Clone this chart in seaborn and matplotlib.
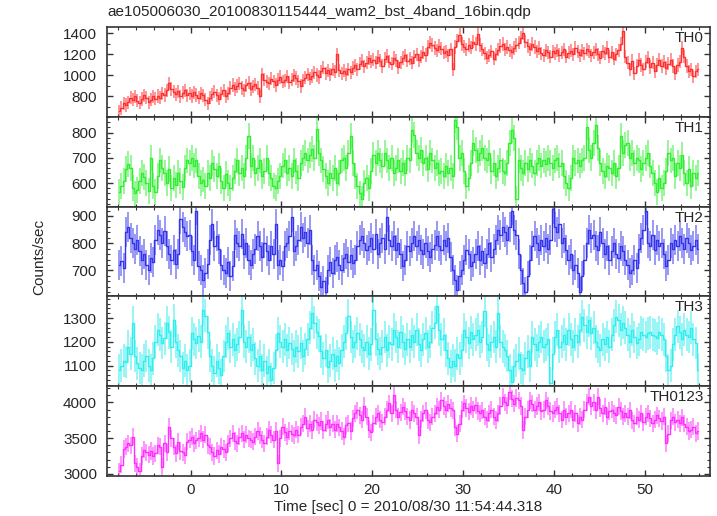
import numpy as np
import pandas as pd
import matplotlib
matplotlib.use("Agg")
import matplotlib.pyplot as plt
from matplotlib.ticker import MultipleLocator
import seaborn as sns

TITLE = "ae105006030_20100830115444_wam2_bst_4band_16bin.qdp"
XLABEL = "Time [sec] 0 = 2010/08/30 11:54:44.318"
YLABEL = "Counts/sec"

# light curve bins: first bin centre and bin width (sec)
T_FIRST = -7.875
BIN = 0.25

BANDS = ["TH0", "TH1", "TH2", "TH3", "TH0123"]
COLORS = ["#ff3030", "#30ee30", "#3434ee", "#30eeee", "#ff30ff"]
ERRORS = [63, 51, 55, 69, 120]   # typical 1-sigma half length per band

# count rates, 16 bins (4 s) per row
TH0 = [
    660, 690, 735, 720, 745, 790, 770, 800, 760, 740, 775, 810, 790, 745, 770, 800,
    780, 805, 790, 830, 815, 860, 925, 870, 845, 820, 850, 800, 835, 860, 810, 830,
    805, 840, 815, 790, 830, 810, 770, 735, 790, 820, 845, 810, 780, 825, 860, 800,
    830, 880, 910, 870, 900, 925, 880, 860, 905, 930, 870, 895, 915, 880, 800, 1010,
    960, 940, 925, 970, 945, 910, 960, 985, 940, 955, 990, 935, 960, 1000, 975, 945,
    900, 955, 980, 1010, 970, 995, 1030, 1005, 985, 1040, 1075, 1020, 1050, 1010, 1060, 1035,
    1200, 1050, 1020, 1045, 1010, 1060, 1030, 1070, 1095, 1060, 1110, 1140, 1085, 1120, 1165, 1130,
    1150, 1120, 1175, 1140, 1090, 1160, 1185, 1130, 1110, 1170, 1145, 1080, 1125, 1165, 1190, 1140,
    1160, 1120, 1175, 1200, 1145, 1180, 1220, 1195, 1270, 1310, 1290, 1260, 1240, 1280, 1255, 1215,
    1230, 1190, 1250, 1060, 1270, 1330, 1385, 1300, 1275, 1250, 1290, 1265, 1320, 1300, 1395, 1290,
    1250, 1210, 1170, 1190, 1230, 1160, 1200, 1245, 1280, 1300, 1250, 1270, 1240, 1220, 1260, 1290,
    1310, 1360, 1400, 1320, 1280, 1250, 1300, 1270, 1230, 1260, 1210, 1190, 1240, 1220, 1180, 1230,
    1210, 1240, 1195, 1220, 1250, 1180, 1215, 1235, 1200, 1260, 1225, 1190, 1240, 1210, 1250, 1230,
    1190, 1220, 1250, 1200, 1170, 1230, 1210, 1260, 1180, 1220, 1160, 1200, 1240, 1300, 1420, 1180,
    1120, 1060, 1140, 1020, 1090, 1150, 1100, 1060, 1130, 1170, 1080, 1120, 1040, 1100, 1150, 1090,
    1130, 1070, 1110, 1150, 1090, 1020, 1100, 1130, 1260, 1180, 1090, 1040, 1060, 990, 1040, 1060,
]
TH1 = [
    565, 590, 610, 655, 675, 660, 580, 560, 575, 610, 640, 625, 600, 570, 700, 590,
    565, 630, 690, 660, 640, 600, 655, 580, 620, 595, 640, 610, 585, 660, 690, 680,
    700, 670, 690, 630, 600, 615, 590, 640, 620, 680, 655, 630, 670, 610, 580, 635,
    600, 580, 620, 650, 690, 640, 660, 630, 700, 785, 670, 700, 640, 660, 690, 630,
    650, 700, 640, 620, 590, 580, 610, 630, 670, 690, 640, 660, 630, 690, 650, 620,
    680, 700, 720, 690, 710, 735, 700, 815, 720, 690, 655, 630, 600, 640, 620, 660,
    600, 640, 690, 700, 660, 720, 785, 680, 630, 590, 560, 540, 600, 620, 580, 650,
    710, 680, 720, 690, 670, 720, 690, 660, 700, 640, 660, 690, 650, 680, 640, 700,
    690, 810, 790, 720, 700, 730, 680, 700, 655, 720, 690, 660, 680, 640, 650, 630,
    670, 640, 660, 630, 850, 820, 700, 720, 650, 590, 620, 680, 760, 730, 690, 720,
    740, 700, 690, 720, 650, 680, 630, 660, 690, 650, 640, 680, 760, 810, 780, 540,
    690, 660, 640, 680, 655, 690, 670, 640, 680, 700, 670, 690, 675, 700, 680, 660,
    690, 700, 670, 680, 630, 600, 580, 620, 700, 680, 690, 670, 690, 700, 820, 730,
    700, 760, 830, 740, 680, 650, 630, 670, 660, 640, 680, 630, 660, 785, 720, 750,
    760, 700, 720, 680, 700, 690, 655, 680, 700, 720, 670, 640, 600, 565, 620, 580,
    600, 650, 720, 690, 700, 630, 680, 660, 710, 640, 600, 655, 590, 640, 620, 640,
]
TH2 = [
    720, 735, 710, 840, 860, 820, 800, 780, 810, 770, 740, 760, 720, 700, 745, 730,
    810, 850, 830, 800, 845, 790, 760, 740, 775, 725, 760, 890, 860, 840, 825, 830,
    770, 740, 920, 715, 700, 665, 690, 725, 810, 870, 790, 825, 780, 720, 700, 690,
    730, 680, 715, 830, 800, 790, 835, 760, 800, 740, 720, 760, 780, 825, 790, 750,
    800, 770, 740, 790, 760, 870, 720, 740, 715, 790, 800, 825, 895, 770, 790, 810,
    860, 820, 840, 800, 850, 740, 700, 720, 680, 640, 660, 620, 700, 730, 690, 740,
    750, 720, 700, 745, 760, 730, 755, 727, 740, 790, 810, 825, 800, 775, 790, 820,
    780, 835, 760, 800, 820, 780, 895, 810, 790, 825, 775, 800, 760, 715, 740, 790,
    770, 800, 825, 790, 810, 775, 760, 800, 770, 750, 780, 795, 825, 790, 775, 810,
    790, 820, 750, 700, 665, 630, 680, 700, 740, 775, 760, 715, 730, 760, 790, 740,
    770, 727, 760, 800, 750, 780, 810, 850, 830, 860, 840, 810, 860, 920, 850, 830,
    760, 700, 655, 620, 680, 740, 790, 825, 800, 775, 810, 790, 820, 780, 810, 925,
    860, 840, 870, 800, 820, 775, 740, 760, 700, 720, 690, 620, 680, 740, 800, 850,
    820, 830, 790, 775, 840, 800, 760, 790, 740, 770, 800, 760, 745, 790, 770, 740,
    720, 690, 700, 740, 710, 780, 820, 850, 920, 800, 790, 830, 775, 810, 790, 800,
    760, 715, 740, 800, 780, 810, 790, 825, 800, 780, 820, 800, 775, 790, 810, 780,
]
TH3 = [
    1080, 1100, 1120, 1115, 1180, 1150, 1280, 1140, 1110, 1090, 1080, 1120, 1140, 1100, 1080, 1130,
    1200, 1250, 1230, 1195, 1215, 1280, 1240, 1180, 1290, 1200, 1165, 1140, 1090, 1120, 1080, 1100,
    1235, 1210, 1195, 1225, 1200, 1335, 1310, 1240, 1140, 1100, 1070, 1120, 1090, 1060, 1140, 1200,
    1235, 1180, 1210, 1165, 1190, 1220, 1335, 1200, 1180, 1220, 1165, 1190, 1130, 1100, 1140, 1080,
    1120, 1070, 1100, 1040, 1090, 1165, 1235, 1200, 1180, 1210, 1165, 1195, 1170, 1140, 1180, 1160,
    1195, 1140, 1170, 1210, 1260, 1320, 1280, 1240, 1225, 1160, 1130, 1165, 1095, 1120, 1150, 1100,
    1140, 1110, 1165, 1200, 1235, 1310, 1220, 1180, 1200, 1235, 1210, 1180, 1165, 1200, 1150, 1190,
    1335, 1210, 1170, 1150, 1180, 1220, 1165, 1200, 1190, 1250, 1220, 1180, 1240, 1200, 1170, 1210,
    1180, 1230, 1200, 1250, 1190, 1165, 1210, 1235, 1180, 1200, 1260, 1280, 1350, 1250, 1210, 1230,
    1165, 1130, 1095, 1120, 1100, 1150, 1130, 1165, 1250, 1220, 1195, 1240, 1210, 1230, 1250, 1200,
    1220, 1330, 1190, 1165, 1200, 1220, 1180, 1320, 1200, 1180, 1165, 1140, 1080, 1030, 1100, 1120,
    1150, 1090, 1080, 1130, 1160, 1100, 1220, 1190, 1165, 1200, 1220, 1180, 1190, 1210, 1025, 1150,
    1220, 1250, 1180, 1200, 1230, 1190, 1250, 1210, 1180, 1230, 1200, 1250, 1305, 1270, 1240, 1290,
    1235, 1260, 1200, 1180, 1165, 1210, 1190, 1220, 1180, 1230, 1270, 1305, 1290, 1250, 1280, 1260,
    1230, 1200, 1250, 1220, 1195, 1210, 1240, 1230, 1220, 1235, 1240, 1230, 1225, 1215, 1240, 1230,
    1210, 1140, 1080, 1100, 1190, 1230, 1265, 1240, 1210, 1250, 1230, 1220, 1260, 1210, 1195, 1080,
]
TH0123 = [
    3040, 3130, 3350, 3380, 3430, 3400, 3520, 3150, 3100, 3040, 3250, 3340, 3300, 3270, 3320, 3250,
    3290, 3400, 3380, 3100, 3430, 3300, 3660, 3500, 3380, 3290, 3450, 3320, 3300, 3260, 3450, 3480,
    3520, 3430, 3470, 3500, 3570, 3480, 3550, 3400, 3380, 3300, 3250, 3330, 3280, 3380, 3350, 3300,
    3430, 3500, 3570, 3460, 3430, 3520, 3570, 3480, 3550, 3500, 3480, 3450, 3520, 3600, 3540, 3480,
    3430, 3520, 3615, 3550, 3480, 3600, 3150, 3500, 3660, 3580, 3520, 3600, 3560, 3540, 3620, 3550,
    3660, 3700, 3800, 3640, 3700, 3615, 3760, 3720, 3680, 3740, 3615, 3700, 3755, 3650, 3700, 3620,
    3700, 3650, 3600, 3520, 3680, 3710, 3600, 3780, 3850, 3890, 3820, 3760, 3950, 3800, 3620, 3580,
    3710, 3800, 3850, 3760, 3720, 3800, 3900, 3985, 3850, 4100, 3900, 3800, 3860, 3940, 3880, 3800,
    3755, 3900, 3850, 3800, 3545, 3760, 3850, 3890, 3750, 3720, 3800, 3850, 3940, 3900, 4030, 3950,
    3900, 3980, 3920, 3890, 3650, 3560, 3700, 3900, 3985, 3920, 3870, 3950, 3900, 3960, 3880, 3850,
    3890, 3800, 3760, 3850, 3900, 3800, 3755, 3850, 3950, 4080, 4000, 3960, 4150, 4050, 3980, 4060,
    4030, 3950, 3615, 3800, 3900, 4030, 3980, 3900, 3950, 4000, 3880, 3900, 4030, 3950, 3880, 3850,
    3900, 3940, 3850, 3760, 3900, 3800, 3850, 3900, 3760, 3850, 3710, 3800, 3760, 3900, 4000, 4080,
    3950, 4000, 3890, 4080, 3920, 3850, 3940, 3800, 3880, 3900, 3850, 3820, 3940, 3880, 3800, 3850,
    3800, 3890, 3750, 3710, 3800, 3760, 3850, 3720, 3800, 3850, 3780, 3710, 3760, 3820, 3780, 3740,
    3800, 3430, 3560, 3750, 3800, 3720, 3760, 3710, 3790, 3700, 3660, 3600, 3620, 3660, 3570, 3600,
]

# axis settings per panel
YLIMS = [(605, 1457), (508, 861), (605, 934), (1014, 1391), (2976, 4228)]
YMAJOR = [200, 100, 100, 100, 500]
YMINOR = [100, 20, 20, 20, 100]
XLIM = (-9.25, 57.2)

# long-form table for seaborn
frames = []
for band, rates in zip(BANDS, [TH0, TH1, TH2, TH3, TH0123]):
    t = T_FIRST + BIN * np.arange(len(rates))
    frames.append(pd.DataFrame({"Time": t, "Rate": rates, "Band": band}))
df = pd.concat(frames, ignore_index=True)

sns.set_style("ticks")
plt.rcParams["font.family"] = ["Liberation Sans", "DejaVu Sans"]
plt.rcParams["font.size"] = 11

fig, axes = plt.subplots(5, 1, sharex=True, figsize=(7.17, 5.16), dpi=100)
fig.subplots_adjust(left=0.1488, right=0.9902, top=0.947, bottom=0.0781, hspace=0)

for i, (ax, band) in enumerate(zip(axes, BANDS)):
    sub = df[df["Band"] == band]
    color = COLORS[i]
    # error bars first (lighter), then the step curve on top
    ax.vlines(sub["Time"], sub["Rate"] - ERRORS[i], sub["Rate"] + ERRORS[i],
              color=color, alpha=0.5, lw=1.4, zorder=2)
    sns.lineplot(data=sub, x="Time", y="Rate", color=color, estimator=None,
                 drawstyle="steps-mid", lw=1.0, ax=ax, zorder=3)

    ax.set_xlim(*XLIM)
    ax.set_ylim(*YLIMS[i])
    ax.set_xlabel("")
    ax.set_ylabel("")
    ax.yaxis.set_major_locator(MultipleLocator(YMAJOR[i]))
    ax.yaxis.set_minor_locator(MultipleLocator(YMINOR[i]))
    ax.xaxis.set_major_locator(MultipleLocator(10))
    ax.xaxis.set_minor_locator(MultipleLocator(2))
    ax.tick_params(which="both", direction="in", top=True, right=True,
                   color="#333333", labelsize=11)
    ax.tick_params(which="major", length=4.5, width=1.0)
    ax.tick_params(which="minor", length=2.4, width=0.8)
    ax.tick_params(axis="y", pad=7)
    ax.tick_params(axis="x", pad=5)
    for s in ax.spines.values():
        s.set_color("#333333")
        s.set_linewidth(1.2)

    ax.text(0.99, 0.955, band, transform=ax.transAxes, ha="right", va="top",
            fontsize=11, zorder=5)

fig.text(107 / 717, 1 - 12 / 516, TITLE, ha="left", va="center", fontsize=11)
fig.text(39 / 717, 1 - 257 / 516, YLABEL, ha="center", va="center",
         rotation=90, fontsize=11)
fig.text(408 / 717, 1 - 507 / 516, XLABEL, ha="center", va="center", fontsize=11)

fig.savefig("out.png", dpi=100)
